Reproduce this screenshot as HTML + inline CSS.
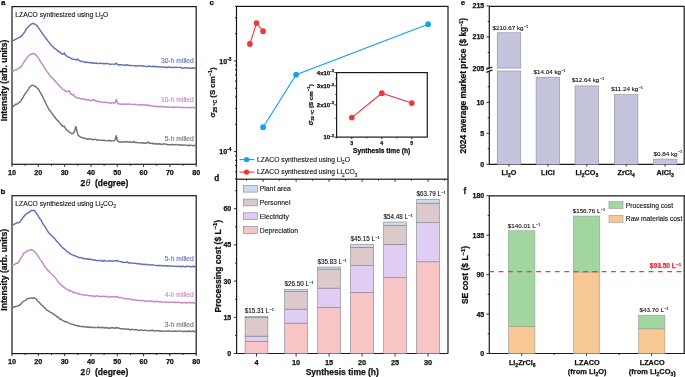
<!DOCTYPE html>
<html><head><meta charset="utf-8"><style>
html,body{margin:0;padding:0;background:#fff;}
svg{display:block;font-family:"Liberation Sans", sans-serif;}
text{-webkit-font-smoothing:antialiased;}
body{will-change:transform;}
</style></head><body>
<svg width="685" height="377" viewBox="0 0 685 377">
<rect width="685" height="377" fill="#fff"/>
<rect x="12" y="6.6" width="184.2" height="157.7" fill="none" stroke="#1a1a1a" stroke-width="1.2"/>
<line x1="12" y1="164.3" x2="12" y2="166.9" stroke="#1a1a1a" stroke-width="0.9" />
<text x="12" y="174.7" font-size="7.2" font-weight="bold" text-anchor="middle" fill="#111" stroke="#111" stroke-width="0.25" >10</text>
<line x1="25.16" y1="164.3" x2="25.16" y2="165.8" stroke="#1a1a1a" stroke-width="0.9" />
<line x1="38.31" y1="164.3" x2="38.31" y2="166.9" stroke="#1a1a1a" stroke-width="0.9" />
<text x="38.31" y="174.7" font-size="7.2" font-weight="bold" text-anchor="middle" fill="#111" stroke="#111" stroke-width="0.25" >20</text>
<line x1="51.47" y1="164.3" x2="51.47" y2="165.8" stroke="#1a1a1a" stroke-width="0.9" />
<line x1="64.63" y1="164.3" x2="64.63" y2="166.9" stroke="#1a1a1a" stroke-width="0.9" />
<text x="64.63" y="174.7" font-size="7.2" font-weight="bold" text-anchor="middle" fill="#111" stroke="#111" stroke-width="0.25" >30</text>
<line x1="77.79" y1="164.3" x2="77.79" y2="165.8" stroke="#1a1a1a" stroke-width="0.9" />
<line x1="90.94" y1="164.3" x2="90.94" y2="166.9" stroke="#1a1a1a" stroke-width="0.9" />
<text x="90.94" y="174.7" font-size="7.2" font-weight="bold" text-anchor="middle" fill="#111" stroke="#111" stroke-width="0.25" >40</text>
<line x1="104.1" y1="164.3" x2="104.1" y2="165.8" stroke="#1a1a1a" stroke-width="0.9" />
<line x1="117.26" y1="164.3" x2="117.26" y2="166.9" stroke="#1a1a1a" stroke-width="0.9" />
<text x="117.26" y="174.7" font-size="7.2" font-weight="bold" text-anchor="middle" fill="#111" stroke="#111" stroke-width="0.25" >50</text>
<line x1="130.41" y1="164.3" x2="130.41" y2="165.8" stroke="#1a1a1a" stroke-width="0.9" />
<line x1="143.57" y1="164.3" x2="143.57" y2="166.9" stroke="#1a1a1a" stroke-width="0.9" />
<text x="143.57" y="174.7" font-size="7.2" font-weight="bold" text-anchor="middle" fill="#111" stroke="#111" stroke-width="0.25" >60</text>
<line x1="156.73" y1="164.3" x2="156.73" y2="165.8" stroke="#1a1a1a" stroke-width="0.9" />
<line x1="169.89" y1="164.3" x2="169.89" y2="166.9" stroke="#1a1a1a" stroke-width="0.9" />
<text x="169.89" y="174.7" font-size="7.2" font-weight="bold" text-anchor="middle" fill="#111" stroke="#111" stroke-width="0.25" >70</text>
<line x1="183.04" y1="164.3" x2="183.04" y2="165.8" stroke="#1a1a1a" stroke-width="0.9" />
<line x1="196.2" y1="164.3" x2="196.2" y2="166.9" stroke="#1a1a1a" stroke-width="0.9" />
<text x="196.2" y="174.7" font-size="7.2" font-weight="bold" text-anchor="middle" fill="#111" stroke="#111" stroke-width="0.25" >80</text>
<text x="80.5" y="185.6" font-size="8.5" font-weight="bold" text-anchor="start" fill="#111" stroke="#111" stroke-width="0.25" >2</text>
<text x="85.7" y="185.6" font-size="8.3" font-weight="normal" text-anchor="start" fill="#111" stroke="#111" stroke-width="0.12" font-style="italic">θ</text>
<text x="94.9" y="185.6" font-size="8.5" font-weight="bold" text-anchor="start" fill="#111" stroke="#111" stroke-width="0.25" >(degree)</text>
<text x="15.3" y="16.5" font-size="6.75" font-weight="normal" text-anchor="start" fill="#111" stroke="#111" stroke-width="0.12" >LZACO synthesized using <tspan>Li</tspan><tspan font-size="4.72" dy="2.23">2</tspan><tspan dy="-2.23">O</tspan></text>
<text x="193.8" y="62.5" font-size="6.7" font-weight="normal" text-anchor="end" fill="#6072b6" stroke="#6072b6" stroke-width="0.12" >30-h milled</text>
<text x="193.8" y="102.3" font-size="6.7" font-weight="normal" text-anchor="end" fill="#c588c8" stroke="#c588c8" stroke-width="0.12" >10-h milled</text>
<text x="193.8" y="140.8" font-size="6.7" font-weight="normal" text-anchor="end" fill="#727272" stroke="#727272" stroke-width="0.12" >5-h milled</text>
<text x="7.4" y="80.4" font-size="8.55" font-weight="bold" text-anchor="middle" fill="#111" stroke="#111" stroke-width="0.25" transform="rotate(-90 7.4 80.4)" >Intensity (arb. units)</text>
<text x="1.1" y="4.6" font-size="8.0" font-weight="bold" text-anchor="start" fill="#111" stroke="#111" stroke-width="0.25" >a</text>
<path d="M12.1,41.1 L12.93,40.63 L14.11,40.21 L15.3,39.45 L16.33,38.96 L17.36,38.35 L18.5,37.85 L19.27,37.66 L20.1,36.98 L20.96,36.51 L21.84,35.62 L22.7,34.79 L23.23,34.09 L23.77,32.93 L24.31,32.66 L24.85,31.73 L25.39,30.86 L25.93,29.53 L26.47,28.73 L27,28.2 L27.73,27.42 L28.48,26.75 L29.23,25.88 L29.95,25.3 L30.62,24.44 L31.2,24.17 L32.37,23.51 L33.4,23.35 L34.29,24.06 L35.27,24.25 L36.5,25.46 L36.94,25.57 L37.42,26.15 L37.93,26.93 L38.46,27.73 L39.01,28.68 L39.57,29.42 L40.13,30.1 L40.7,30.82 L41.26,31.72 L41.8,32.87 L42.34,33.17 L42.88,34.15 L43.42,34.95 L43.96,35.28 L44.5,36.37 L45.04,37.4 L45.58,37.41 L46.12,38.51 L46.66,39.28 L47.2,39.82 L47.79,40.87 L48.37,41.5 L48.94,41.93 L49.51,43.16 L50.08,43.83 L50.66,44.59 L51.26,45.39 L51.87,45.82 L52.5,46.43 L53.17,46.77 L53.87,47.84 L54.59,48.21 L55.33,48.88 L56.07,49.31 L56.8,49.96 L57.5,50.61 L58.17,51.52 L58.8,51.25 L59.87,52.13 L60.9,53.16 L61.84,53.97 L62.65,54.19 L63.3,53.88 L64.3,52.65 L64.58,54 L65.5,55.04 L66.12,55.37 L66.92,56.32 L67.83,56.87 L68.81,57.19 L69.8,57.72 L70.75,58.22 L71.6,58.85 L72.72,59.06 L73.82,59.39 L74.86,59.66 L75.78,59.37 L76.5,60.08 L77.7,59.01 L78.21,59.79 L79.2,60.37 L79.9,60.94 L80.72,61.49 L81.69,61.1 L82.87,61.65 L84.3,62.12 L85.06,61.72 L85.9,62.48 L86.81,62.36 L87.77,62.33 L88.77,62.55 L89.81,62.74 L90.85,62.74 L91.9,63.07 L92.93,62.78 L93.93,62.93 L94.9,63.33 L95.84,63.18 L96.77,63.04 L97.7,63.5 L98.62,63.66 L99.54,63.28 L100.45,63.11 L101.36,63.42 L102.27,63.45 L103.18,63.45 L104.09,63.87 L105,63.37 L105.94,63.93 L106.93,63.44 L107.94,63.61 L108.97,64 L109.99,64.18 L110.98,64.18 L111.93,64.13 L112.81,64.12 L113.61,64.15 L114.32,64.25 L114.9,64.06 L116.17,63.44 L116.4,62.93 L115.93,63.48 L118,64.67 L118.52,64.69 L119.09,65.07 L119.73,64.76 L120.41,64.66 L121.14,64.73 L121.92,64.87 L122.74,65.14 L123.6,64.92 L124.49,65.14 L125.41,65.52 L126.37,64.61 L127.34,64.98 L128.34,65.34 L129.36,65.43 L130.39,65.46 L131.44,65.36 L132.49,65.66 L133.55,65.63 L134.6,65.51 L135.66,66.22 L136.71,65.81 L137.75,65.67 L138.78,65.82 L139.8,65.85 L140.64,65.93 L141.48,65.39 L142.33,65.93 L143.19,66.3 L144.06,65.86 L144.93,66.15 L145.81,66.42 L146.7,66.44 L147.59,66.62 L148.48,65.96 L149.39,66.3 L150.3,66.34 L151.21,66.59 L152.13,66.74 L153.05,65.95 L153.98,66.82 L154.91,66.3 L155.84,66.81 L156.78,66.37 L157.72,66.78 L158.66,67.04 L159.61,66.79 L160.56,66.9 L161.51,67.08 L162.47,66.97 L163.42,66.96 L164.38,67.36 L165.34,67.29 L166.3,67.04 L167.19,67.74 L168.1,66.92 L169.05,67.41 L170.02,67.19 L171.01,67.32 L172.02,67.48 L173.05,67.42 L174.09,67.55 L175.15,67.11 L176.21,67.16 L177.27,67.66 L178.34,67.36 L179.4,67.38 L180.46,67.32 L181.51,67.97 L182.56,67.89 L183.59,68.09 L184.6,67.59 L185.6,67.84 L186.57,67.62 L187.52,68.08 L188.44,68.29 L189.33,67.78 L190.19,68.35 L191.01,68.25 L191.79,68.02 L192.53,67.66 L193.23,68.43 L193.88,68.12 L194.47,68.03 L195.01,68.27 L195.5,68.2" fill="none" stroke="#6072b6" stroke-width="1.45" stroke-linejoin="round" stroke-linecap="round"/>
<path d="M12.3,71.5 L12.85,71.24 L13.64,70.99 L14.56,69.88 L15.5,69.85 L16.49,69.52 L17.58,69.13 L18.65,68.36 L19.6,67.74 L20.35,67.55 L20.98,66.73 L21.59,65.98 L22.3,65.31 L22.77,64.26 L23.28,63.02 L23.81,62.58 L24.34,61.36 L24.88,61.07 L25.4,60.12 L25.9,59.17 L26.55,58.35 L27.17,57.65 L27.77,56.67 L28.38,56.22 L29,55.29 L29.84,54.89 L30.72,54.5 L31.56,54.18 L32.3,53.45 L33.33,53.74 L34.3,53.59 L34.9,54.09 L35.53,54.3 L36.25,55.58 L37.1,56.03 L37.55,56.89 L38.05,57.55 L38.58,58.38 L39.14,59.11 L39.71,60.17 L40.27,61.4 L40.82,61.87 L41.33,62.79 L41.8,63.62 L42.4,64.3 L42.91,64.89 L43.38,65.82 L43.86,66.95 L44.38,67.18 L45,68.37 L45.48,69.45 L46,70.2 L46.55,70.86 L47.12,71.91 L47.71,72.64 L48.3,73.21 L48.88,73.96 L49.45,74.95 L50,76 L50.67,76.48 L51.33,77.13 L51.98,77.82 L52.62,78.27 L53.27,79.21 L53.93,79.63 L54.6,80.68 L55.21,80.76 L55.83,82.08 L56.47,82.62 L57.11,83.1 L57.74,84.44 L58.38,84.94 L59,85.19 L59.6,86.11 L60.39,87.1 L61.18,87.61 L61.95,88.5 L62.7,89.06 L63.42,89.56 L64.1,89.97 L65.07,90.89 L65.98,91.36 L66.8,91.78 L67.5,91.44 L68.42,91.27 L69.1,90.69 L69.6,91.13 L70.08,92.4 L70.6,94.03 L71.53,94.07 L72.4,94.9 L73.4,94.43 L73.81,94.72 L74.6,96.45 L75.2,97.14 L75.93,97.1 L76.76,97.64 L77.69,98.07 L78.7,98 L79.47,98.39 L80.3,98.67 L81.18,98.96 L82.1,98.94 L83.05,99.06 L84.02,99.03 L85,99.32 L85.92,99.73 L86.93,99.71 L87.98,99.65 L89.04,99.79 L90.06,100.69 L91,100.45 L91.83,100.41 L92.5,99.73 L93.72,100.01 L94.2,99.61 L94.59,100.43 L95.8,100.99 L96.42,101.05 L97.18,101.34 L98.05,100.97 L99,101.79 L100.01,101.8 L101.04,101.74 L102.06,102.33 L103.06,102.58 L104,101.99 L105.04,102.27 L106.13,102.59 L107.24,102.66 L108.33,102.62 L109.38,102.56 L110.36,103.3 L111.25,103.1 L112,102.64 L113.4,102.67 L114.23,103.3 L114.9,102.82 L115.5,101.97 L115.94,100.44 L116.4,99.51 L116.67,100.33 L116.86,100.96 L117.22,102.54 L118,103.59 L118.71,103.97 L119.57,103.84 L120.56,104.04 L121.63,104.18 L122.76,104.15 L123.89,104.21 L125,104.15 L125.84,104.07 L126.67,104.34 L127.51,104.21 L128.36,104.04 L129.24,104.11 L130.16,104.27 L131.11,104.28 L132.12,104.38 L133.2,104.4 L133.98,104.48 L134.78,104.46 L135.59,104.26 L136.43,104.69 L137.29,104.88 L138.16,104.8 L139.07,104.73 L139.99,104.93 L140.94,104.69 L141.92,104.55 L142.92,105.06 L143.94,104.92 L145,105.36 L145.8,105.02 L146.58,104.75 L147.33,105.17 L148.08,105.82 L148.83,105.46 L149.59,105.32 L150.37,105.53 L151.17,105.89 L152,105.97 L152.88,105.98 L153.82,106.35 L154.81,106.26 L155.87,106.18 L157.02,106.4 L158.24,106.71 L159.57,106.64 L161,106.73 L161.69,106.3 L162.42,106.54 L163.2,106.77 L164.02,106.58 L164.88,106.92 L165.77,106.85 L166.7,106.96 L167.65,106.75 L168.63,107.4 L169.64,107.15 L170.66,106.87 L171.7,106.97 L172.76,107.57 L173.83,106.96 L174.91,107.27 L175.99,107.33 L177.08,107.15 L178.17,106.94 L179.25,107.27 L180.33,107.35 L181.4,107.56 L182.46,107.52 L183.5,107.39 L184.53,107.6 L185.54,107.57 L186.52,107.53 L187.48,107.53 L188.41,107.5 L189.31,107.73 L190.18,107.38 L191,107.5 L191.79,107.67 L192.53,107.37 L193.23,107.62 L193.88,107.3 L194.47,107.61 L195.02,107.91 L195.5,107.8" fill="none" stroke="#c588c8" stroke-width="1.45" stroke-linejoin="round" stroke-linecap="round"/>
<path d="M12.3,107 L12.85,106.69 L13.64,105.93 L14.56,105.2 L15.5,104.29 L16.28,104.56 L17.13,103.87 L18,103.58 L18.84,102.67 L19.6,102.26 L20.25,101.23 L20.82,101.07 L21.36,100.3 L21.91,98.81 L22.5,98.29 L22.96,97.73 L23.43,96.44 L23.91,95.64 L24.4,94.99 L24.9,94.26 L25.4,93.28 L25.9,92.81 L26.41,92.06 L26.94,91.32 L27.47,90.5 L28,89.87 L28.52,89.03 L29.03,87.8 L29.5,87.39 L30.51,86.23 L31.44,85.54 L32.3,85.38 L33.31,85.39 L34.5,86.21 L35.08,86.15 L35.75,86.69 L36.47,87.5 L37.22,88.11 L37.97,88.84 L38.7,89.79 L39.17,90.31 L39.63,91.36 L40.09,92.08 L40.55,92.82 L41.02,93.58 L41.5,94.62 L41.98,95.01 L42.48,96.38 L43,97.61 L43.41,98.06 L43.83,99.28 L44.27,100.16 L44.72,100.75 L45.17,101.94 L45.63,102.87 L46.09,103.98 L46.54,104.93 L46.98,105.67 L47.4,106.33 L47.81,107.26 L48.2,107.99 L48.8,109.21 L49.35,109.99 L49.85,110.53 L50.35,111.1 L50.85,112 L51.4,112.64 L52,113.36 L52.52,114.26 L53.08,114.89 L53.66,115.76 L54.26,116.59 L54.87,117.13 L55.48,118.47 L56.08,118.6 L56.65,119.6 L57.2,120.03 L57.88,121.04 L58.57,121.06 L59.24,122.17 L59.88,123.11 L60.48,123.84 L61.02,124.81 L61.5,124.87 L62.61,126.2 L63.3,126.57 L64.3,126.31 L64.64,126.79 L65.02,127.5 L65.46,128.59 L66,129.06 L66.67,130.2 L67.44,130.29 L68.27,131.11 L69.1,132.07 L69.96,132.19 L70.88,132.94 L71.75,133.74 L72.5,133.71 L73.26,133.21 L73.85,132.65 L74.4,131.63 L74.73,130.67 L75.03,129.03 L75.33,128.28 L75.61,127.28 L75.9,126.6 L76.1,126.99 L76.3,127.56 L76.5,128.95 L76.69,129.62 L76.89,131.07 L77.09,131.87 L77.3,132.65 L77.73,134.3 L78.17,135.44 L78.9,136 L79.72,136.42 L80.73,137.22 L81.84,137.43 L83,137.87 L83.86,138.38 L84.68,138.49 L85.59,138.3 L86.72,139.09 L88.2,138.8 L88.89,139.07 L89.65,138.86 L90.47,139.1 L91.34,138.85 L92.25,139.74 L93.19,139.77 L94.16,139.32 L95.15,139.38 L96.14,139.47 L97.13,140.19 L98.11,139.93 L99.07,140.11 L100,140.13 L100.94,140.24 L101.93,140.1 L102.94,140.4 L103.98,140.14 L105.02,140.49 L106.05,140.62 L107.06,140.7 L108.04,140.58 L108.97,140.46 L109.85,140.71 L110.65,140.59 L111.37,141.04 L112,140.87 L113.69,140.7 L114.37,140.53 L114.9,139.95 L115.29,139.08 L115.6,138.01 L115.86,136.91 L116.12,136.02 L116.4,135.73 L116.6,136.49 L116.73,136.81 L116.86,138.19 L117.06,140.09 L117.42,140.21 L118,141.29 L118.71,141.79 L119.58,141.97 L120.57,142.09 L121.65,141.93 L122.77,142.01 L123.9,141.9 L125,142.07 L126,141.54 L127.09,141.82 L128.23,142.08 L129.37,141.92 L130.46,141.96 L131.46,142.36 L132.32,142.08 L133,142.34 L134.1,141.36 L134.07,141.83 L135.4,142.61 L136,142.54 L136.77,142.32 L137.66,142.68 L138.66,142.85 L139.73,142.68 L140.85,142.82 L141.98,143.05 L143.09,142.72 L144.16,143.07 L145.16,143.35 L146.05,142.82 L146.8,142.96 L147.4,142.87 L148.5,141.94 L148.19,142.31 L149.8,143.4 L150.32,143.12 L150.9,143.35 L151.52,143.42 L152.2,143.1 L152.93,143.88 L153.7,143.83 L154.53,143.32 L155.39,143.93 L156.31,143.8 L157.26,143.99 L158.26,144.04 L159.3,143.69 L160.37,144.04 L161.49,144.48 L162.64,144.08 L163.83,144.05 L165.05,144.04 L166.3,144.13 L167.04,144.51 L167.83,144.85 L168.66,144.61 L169.54,144.6 L170.46,145.08 L171.41,144.51 L172.39,144.52 L173.39,144.82 L174.42,144.87 L175.47,144.56 L176.53,144.57 L177.6,144.93 L178.68,144.96 L179.77,144.66 L180.85,144.94 L181.93,144.91 L183,145.16 L184.06,145.07 L185.11,145.12 L186.13,145.09 L187.13,145.44 L188.11,145.55 L189.05,145.19 L189.96,145.49 L190.82,145.17 L191.65,145.38 L192.43,145.56 L193.16,145.75 L193.84,145.36 L194.45,145.45 L195.01,145.53 L195.5,145.5" fill="none" stroke="#727272" stroke-width="1.45" stroke-linejoin="round" stroke-linecap="round"/>
<rect x="12" y="195.7" width="184.2" height="157.9" fill="none" stroke="#1a1a1a" stroke-width="1.2"/>
<line x1="12" y1="353.6" x2="12" y2="356.2" stroke="#1a1a1a" stroke-width="0.9" />
<text x="12" y="364" font-size="7.2" font-weight="bold" text-anchor="middle" fill="#111" stroke="#111" stroke-width="0.25" >10</text>
<line x1="25.16" y1="353.6" x2="25.16" y2="355.1" stroke="#1a1a1a" stroke-width="0.9" />
<line x1="38.31" y1="353.6" x2="38.31" y2="356.2" stroke="#1a1a1a" stroke-width="0.9" />
<text x="38.31" y="364" font-size="7.2" font-weight="bold" text-anchor="middle" fill="#111" stroke="#111" stroke-width="0.25" >20</text>
<line x1="51.47" y1="353.6" x2="51.47" y2="355.1" stroke="#1a1a1a" stroke-width="0.9" />
<line x1="64.63" y1="353.6" x2="64.63" y2="356.2" stroke="#1a1a1a" stroke-width="0.9" />
<text x="64.63" y="364" font-size="7.2" font-weight="bold" text-anchor="middle" fill="#111" stroke="#111" stroke-width="0.25" >30</text>
<line x1="77.79" y1="353.6" x2="77.79" y2="355.1" stroke="#1a1a1a" stroke-width="0.9" />
<line x1="90.94" y1="353.6" x2="90.94" y2="356.2" stroke="#1a1a1a" stroke-width="0.9" />
<text x="90.94" y="364" font-size="7.2" font-weight="bold" text-anchor="middle" fill="#111" stroke="#111" stroke-width="0.25" >40</text>
<line x1="104.1" y1="353.6" x2="104.1" y2="355.1" stroke="#1a1a1a" stroke-width="0.9" />
<line x1="117.26" y1="353.6" x2="117.26" y2="356.2" stroke="#1a1a1a" stroke-width="0.9" />
<text x="117.26" y="364" font-size="7.2" font-weight="bold" text-anchor="middle" fill="#111" stroke="#111" stroke-width="0.25" >50</text>
<line x1="130.41" y1="353.6" x2="130.41" y2="355.1" stroke="#1a1a1a" stroke-width="0.9" />
<line x1="143.57" y1="353.6" x2="143.57" y2="356.2" stroke="#1a1a1a" stroke-width="0.9" />
<text x="143.57" y="364" font-size="7.2" font-weight="bold" text-anchor="middle" fill="#111" stroke="#111" stroke-width="0.25" >60</text>
<line x1="156.73" y1="353.6" x2="156.73" y2="355.1" stroke="#1a1a1a" stroke-width="0.9" />
<line x1="169.89" y1="353.6" x2="169.89" y2="356.2" stroke="#1a1a1a" stroke-width="0.9" />
<text x="169.89" y="364" font-size="7.2" font-weight="bold" text-anchor="middle" fill="#111" stroke="#111" stroke-width="0.25" >70</text>
<line x1="183.04" y1="353.6" x2="183.04" y2="355.1" stroke="#1a1a1a" stroke-width="0.9" />
<line x1="196.2" y1="353.6" x2="196.2" y2="356.2" stroke="#1a1a1a" stroke-width="0.9" />
<text x="196.2" y="364" font-size="7.2" font-weight="bold" text-anchor="middle" fill="#111" stroke="#111" stroke-width="0.25" >80</text>
<text x="80.5" y="374.9" font-size="8.5" font-weight="bold" text-anchor="start" fill="#111" stroke="#111" stroke-width="0.25" >2</text>
<text x="85.7" y="374.9" font-size="8.3" font-weight="normal" text-anchor="start" fill="#111" stroke="#111" stroke-width="0.12" font-style="italic">θ</text>
<text x="94.9" y="374.9" font-size="8.5" font-weight="bold" text-anchor="start" fill="#111" stroke="#111" stroke-width="0.25" >(degree)</text>
<text x="15.3" y="205.6" font-size="6.75" font-weight="normal" text-anchor="start" fill="#111" stroke="#111" stroke-width="0.12" >LZACO synthesized using <tspan>Li</tspan><tspan font-size="4.72" dy="2.23">2</tspan><tspan dy="-2.23">CO</tspan><tspan font-size="4.72" dy="2.23">3</tspan></text>
<text x="193.8" y="261.2" font-size="6.7" font-weight="normal" text-anchor="end" fill="#6072b6" stroke="#6072b6" stroke-width="0.12" >5-h milled</text>
<text x="193.8" y="297" font-size="6.7" font-weight="normal" text-anchor="end" fill="#c588c8" stroke="#c588c8" stroke-width="0.12" >4-h milled</text>
<text x="193.8" y="326.8" font-size="6.7" font-weight="normal" text-anchor="end" fill="#727272" stroke="#727272" stroke-width="0.12" >3-h milled</text>
<text x="7.4" y="269.8" font-size="8.55" font-weight="bold" text-anchor="middle" fill="#111" stroke="#111" stroke-width="0.25" transform="rotate(-90 7.4 269.8)" >Intensity (arb. units)</text>
<text x="0.6" y="193.8" font-size="8.0" font-weight="bold" text-anchor="start" fill="#111" stroke="#111" stroke-width="0.25" >b</text>
<path d="M12.1,225.8 L12.65,225.08 L13.43,224.85 L14.35,224.08 L15.3,223.78 L16.12,223.14 L17.03,222.7 L17.96,222.9 L18.84,222.66 L19.6,222.08 L20.32,221.73 L20.89,220.68 L21.41,219.75 L22,219.11 L22.53,217.92 L23.06,217.35 L23.62,216.7 L24.23,216.12 L24.9,215.16 L25.67,214.57 L26.53,213.66 L27.43,213.21 L28.3,212.9 L29.1,211.85 L29.97,211.91 L30.76,210.7 L31.52,210.45 L32.3,210.34 L33.08,210.6 L33.84,210.37 L34.63,210.7 L35.5,212.13 L35.97,212.74 L36.45,213.36 L36.95,214.55 L37.47,214.83 L38,215.7 L38.55,216.75 L39.12,217.55 L39.7,218.77 L40.14,218.82 L40.61,219.75 L41.09,219.84 L41.59,221.57 L42.09,222.11 L42.6,223.21 L43.1,224.28 L43.6,224.6 L44.08,225.31 L44.55,225.99 L45,226.62 L45.58,227.56 L46.12,228.71 L46.64,229.4 L47.15,230.21 L47.66,230.93 L48.18,231.93 L48.72,232.57 L49.3,233.17 L49.91,234.05 L50.53,234.52 L51.17,234.92 L51.82,236.1 L52.49,236.5 L53.17,236.84 L53.88,237.98 L54.6,238.58 L55.2,238.83 L55.81,240.24 L56.44,240.72 L57.09,241.63 L57.74,242.27 L58.39,243 L59.05,243.48 L59.71,244.8 L60.36,245.32 L61,245.94 L61.7,246.79 L62.4,247.43 L63.1,248.23 L63.8,248.64 L64.5,249.34 L65.2,249.47 L65.9,250.43 L66.6,251.22 L67.3,251.89 L68.08,252.08 L68.84,252.65 L69.6,253.51 L70.36,253.55 L71.14,254.22 L71.95,254.85 L72.8,254.9 L73.7,255.57 L74.53,255.5 L75.37,256.04 L76.22,256.31 L77.1,256.68 L78.02,257.21 L78.98,257.79 L79.99,257.4 L81.06,257.7 L82.2,258.21 L82.98,258.04 L83.82,258.55 L84.69,258.73 L85.6,258.71 L86.53,259.04 L87.49,258.74 L88.45,259.4 L89.42,259.04 L90.38,259.36 L91.34,259.52 L92.27,259.68 L93.19,260.08 L94.06,260.02 L94.9,260.01 L95.91,260.33 L96.89,260.66 L97.83,260.4 L98.75,260.55 L99.64,260.8 L100.53,260.64 L101.41,260.35 L102.29,261.22 L103.17,261.2 L104.08,260.32 L105,260.79 L105.97,260.94 L107,261.11 L108.07,261.09 L109.16,260.92 L110.24,260.79 L111.3,261.08 L112.31,261.32 L113.26,260.87 L114.12,260.89 L114.87,261.11 L115.5,260.67 L116.89,260.59 L117.2,260.2 L116.91,260.8 L119,261.35 L119.52,261.39 L120.1,261.58 L120.73,261.75 L121.42,261.7 L122.15,261.95 L122.93,262.22 L123.75,262.42 L124.6,262.64 L125.5,262.2 L126.42,262.39 L127.37,262.05 L128.35,263.12 L129.35,262.66 L130.36,262.93 L131.39,263.16 L132.44,262.86 L133.49,263.37 L134.55,263.38 L135.61,263.09 L136.67,263.66 L137.72,263.96 L138.77,263.39 L139.8,264.08 L140.62,264.02 L141.45,264.16 L142.29,264.23 L143.14,264.49 L144,264.24 L144.87,264.55 L145.74,264.35 L146.62,264.68 L147.51,264.41 L148.41,264.65 L149.31,265.13 L150.22,264.92 L151.14,264.86 L152.06,264.72 L152.99,264.87 L153.92,265.16 L154.86,265.39 L155.8,265.35 L156.74,265.44 L157.69,265.38 L158.64,265.75 L159.59,265.43 L160.54,265.46 L161.5,265.83 L162.46,265.71 L163.42,265.69 L164.38,265.68 L165.34,265.8 L166.3,266.04 L167.19,266.02 L168.1,265.71 L169.05,266.11 L170.02,266.09 L171.01,265.87 L172.02,266.29 L173.05,266.09 L174.09,266.11 L175.15,266.39 L176.21,266.53 L177.27,266.11 L178.34,266.38 L179.4,266.12 L180.46,266.84 L181.51,266.25 L182.56,266.64 L183.59,266.25 L184.6,266.59 L185.6,266.92 L186.57,265.89 L187.52,266.37 L188.44,266.59 L189.33,266.47 L190.19,266.36 L191.01,266.99 L191.79,266.55 L192.53,266.18 L193.23,266.74 L193.88,266.19 L194.47,266.83 L195.01,266.46 L195.5,266.6" fill="none" stroke="#6072b6" stroke-width="1.45" stroke-linejoin="round" stroke-linecap="round"/>
<path d="M12.3,265.5 L12.9,265.26 L13.76,265.15 L14.77,264.47 L15.81,263.65 L16.79,263.07 L17.6,263.16 L18.33,262.39 L18.92,261.32 L19.43,260.91 L19.94,260 L20.5,259.14 L21.01,257.67 L21.52,257.17 L22.04,256.47 L22.58,255.49 L23.13,254.64 L23.7,253.16 L24.42,253.01 L25.18,252.47 L25.95,252.41 L26.73,251.19 L27.5,250.93 L28.48,250.55 L29.47,250.35 L30.43,249.8 L31.3,250.05 L32.26,249.74 L33.09,250.35 L34,250.88 L34.51,251.53 L35.04,251.93 L35.58,252.4 L36.15,253.74 L36.76,254.38 L37.4,255.08 L37.86,255.88 L38.34,256.75 L38.84,257.05 L39.36,258.01 L39.89,258.94 L40.42,259.74 L40.95,260.35 L41.48,260.76 L42,262.27 L42.49,262.84 L42.96,263.53 L43.42,264.24 L43.88,265.12 L44.35,265.74 L44.84,266.39 L45.38,267.24 L45.96,268.06 L46.6,268.87 L47.18,269.41 L47.8,270.47 L48.46,270.7 L49.14,271.8 L49.85,272.11 L50.58,273.09 L51.31,274 L52.05,274.45 L52.78,274.96 L53.5,275.86 L54.2,276.63 L54.78,276.88 L55.35,277.82 L55.92,278.71 L56.49,279.3 L57.05,280.17 L57.62,281.07 L58.19,281.82 L58.76,282.59 L59.34,283.25 L59.94,283.75 L60.54,284.48 L61.16,285.05 L61.8,285.63 L62.56,286.3 L63.33,286.56 L64.11,287.44 L64.9,288.04 L65.7,288.33 L66.53,289.02 L67.37,289.6 L68.23,289.89 L69.12,290.82 L70.04,290.21 L71,291.15 L71.77,291.12 L72.55,292.06 L73.33,292.74 L74.13,291.9 L74.95,292.78 L75.78,293.15 L76.62,293.24 L77.49,293.69 L78.38,293.33 L79.29,294.25 L80.23,294.37 L81.19,294.51 L82.18,294.58 L83.2,295.04 L84.02,294.93 L84.87,295.21 L85.75,295.16 L86.65,294.89 L87.57,295.47 L88.51,295.61 L89.46,295.81 L90.42,295.53 L91.39,295.79 L92.37,295.99 L93.35,295.95 L94.33,296.25 L95.3,296.47 L96.27,295.89 L97.22,295.72 L98.17,296.38 L99.09,296.58 L100,296.5 L100.97,296.54 L101.97,296.28 L102.99,296.31 L104.03,296.72 L105.08,296.37 L106.12,296.22 L107.16,296.45 L108.19,297.26 L109.19,297.17 L110.17,296.63 L111.1,296.66 L111.99,296.89 L112.83,296.7 L113.61,297.17 L114.32,296.88 L114.95,296.66 L115.5,297.19 L117.21,296.37 L117.2,296.25 L116.91,296.68 L119,297.53 L119.52,297.77 L120.1,297.64 L120.73,297.5 L121.42,297.53 L122.15,297.86 L122.93,298.09 L123.75,298.38 L124.6,298.53 L125.5,298.77 L126.42,298.81 L127.37,298.75 L128.35,298.9 L129.35,298.73 L130.36,299.29 L131.39,299.57 L132.44,299.71 L133.49,299.69 L134.55,299.81 L135.61,300.17 L136.67,300.09 L137.72,300.36 L138.77,300.43 L139.8,300.45 L140.62,300.76 L141.45,300.42 L142.29,300.54 L143.14,300.51 L144,300.58 L144.87,301.16 L145.74,301.27 L146.62,300.95 L147.51,301.13 L148.41,301.33 L149.31,301.3 L150.22,301.45 L151.14,300.96 L152.06,301.15 L152.99,301.44 L153.92,301.71 L154.86,301.47 L155.8,301.31 L156.74,301.47 L157.69,301.45 L158.64,301.45 L159.59,302.02 L160.54,301.6 L161.5,301.78 L162.46,302.3 L163.42,302.13 L164.38,301.99 L165.34,301.82 L166.3,302.09 L167.19,302.4 L168.1,302.21 L169.05,302.39 L170.02,302.17 L171.01,302.3 L172.02,302.18 L173.05,302.35 L174.09,302.58 L175.15,302.01 L176.21,302.35 L177.27,302.45 L178.34,302.3 L179.4,302.39 L180.46,302.66 L181.51,302.96 L182.56,302.69 L183.59,302.65 L184.6,302.26 L185.6,303.06 L186.57,302.68 L187.52,302.68 L188.44,302.46 L189.33,302.72 L190.19,302.51 L191.01,302.79 L191.79,302.9 L192.53,302.82 L193.23,302.9 L193.88,302.67 L194.47,303.18 L195.01,302.74 L195.5,302.9" fill="none" stroke="#c588c8" stroke-width="1.45" stroke-linejoin="round" stroke-linecap="round"/>
<path d="M12.3,307.7 L12.95,307.11 L13.86,307.21 L14.94,306.78 L16.1,306.39 L17.24,306.17 L18.27,305.93 L19.1,305.24 L20.09,304.78 L20.77,304.36 L21.35,303.44 L22,302.57 L22.76,302.02 L23.54,301.41 L24.35,300.9 L25.2,300.56 L26.11,299.85 L27.06,298.82 L28.03,298.87 L29,298.3 L30,298.36 L31.03,297.88 L32.01,297.93 L32.9,298.38 L33.83,297.82 L34.61,298.15 L35.5,298.69 L36.12,299 L36.76,299.77 L37.45,300.99 L38.19,301.56 L39,302.09 L39.64,302.77 L40.35,303.87 L41.09,304.23 L41.84,304.99 L42.59,305.82 L43.32,306.69 L44,307.43 L44.69,307.88 L45.3,308.28 L45.89,308.87 L46.51,309.8 L47.22,310.34 L48.1,310.63 L48.72,311.24 L49.39,311.66 L50.12,312.08 L50.88,312.45 L51.68,312.76 L52.48,313.44 L53.3,313.73 L54.12,314.85 L54.92,315.21 L55.7,315.33 L56.45,316.42 L57.19,316.84 L57.91,316.76 L58.63,318.12 L59.36,318.43 L60.11,319.25 L60.87,319.05 L61.67,319.95 L62.51,320.42 L63.4,320.84 L64.18,321.22 L64.98,321.79 L65.81,321.6 L66.66,322.02 L67.53,322.34 L68.42,322.86 L69.32,323.19 L70.24,323.73 L71.17,324.01 L72.11,324.26 L73.05,324.38 L74,324.7 L74.88,325.24 L75.77,325.42 L76.67,325.49 L77.58,325.59 L78.5,326.19 L79.43,325.9 L80.37,326.34 L81.32,326.61 L82.28,326.44 L83.24,326.82 L84.22,326.52 L85.2,327.11 L86.2,327.04 L87.07,326.74 L87.95,327.31 L88.84,327.03 L89.73,327.56 L90.64,327.18 L91.55,327.33 L92.46,327.47 L93.39,327.36 L94.32,327.52 L95.25,327.36 L96.19,327.65 L97.14,327.53 L98.09,327.59 L99.04,326.97 L100,327.86 L100.93,327.64 L101.91,327.27 L102.93,327.71 L103.98,327.82 L105.05,327.98 L106.13,327.54 L107.21,328.14 L108.27,327.79 L109.31,328.37 L110.31,327.83 L111.27,328.03 L112.17,327.81 L113.01,327.66 L113.76,328.15 L114.43,328.11 L115,328.24 L116.5,327.49 L115.98,327.52 L118,327.93 L118.52,328.22 L119.09,328.28 L119.72,328.31 L120.4,328.69 L121.14,328.71 L121.91,328.66 L122.73,328.83 L123.59,328.84 L124.48,329 L125.41,329.2 L126.36,329.33 L127.34,329.06 L128.34,328.96 L129.36,329.69 L130.39,329.48 L131.43,329.78 L132.49,329.26 L133.54,329.62 L134.6,329.78 L135.66,329.53 L136.71,329.8 L137.75,330.14 L138.78,330.28 L139.8,330.45 L140.64,329.96 L141.48,329.88 L142.33,330.35 L143.19,330.48 L144.06,330.36 L144.93,330.07 L145.81,330.56 L146.7,330.6 L147.59,330.58 L148.48,330.39 L149.39,330.59 L150.3,330.73 L151.21,330.46 L152.13,330.21 L153.05,330.72 L153.98,330.78 L154.91,330.7 L155.84,330.92 L156.78,330.63 L157.72,330.76 L158.66,330.74 L159.61,330.96 L160.56,331.21 L161.51,330.82 L162.47,331.36 L163.42,331.26 L164.38,331.13 L165.34,331.11 L166.3,331.39 L167.19,330.98 L168.1,331.02 L169.05,330.83 L170.02,331.19 L171.01,331.4 L172.02,331.24 L173.05,331.24 L174.09,331.12 L175.15,331.22 L176.21,330.89 L177.27,331.45 L178.34,331.15 L179.4,331.01 L180.46,331.11 L181.51,331.11 L182.56,331.49 L183.59,331.55 L184.6,331.04 L185.6,331.56 L186.57,331.56 L187.52,331.25 L188.44,331.07 L189.33,331.24 L190.19,331.28 L191.01,331.51 L191.79,331.36 L192.53,331.01 L193.23,331.52 L193.88,331.14 L194.47,331.68 L195.01,331.23 L195.5,331.5" fill="none" stroke="#727272" stroke-width="1.45" stroke-linejoin="round" stroke-linecap="round"/>
<rect x="236.5" y="6.4" width="211.5" height="172.8" fill="none" stroke="#1a1a1a" stroke-width="1.2"/>
<line x1="235" y1="178.87" x2="236.5" y2="178.87" stroke="#1a1a1a" stroke-width="0.9" />
<line x1="235" y1="171.7" x2="236.5" y2="171.7" stroke="#1a1a1a" stroke-width="0.9" />
<line x1="235" y1="165.63" x2="236.5" y2="165.63" stroke="#1a1a1a" stroke-width="0.9" />
<line x1="235" y1="160.38" x2="236.5" y2="160.38" stroke="#1a1a1a" stroke-width="0.9" />
<line x1="235" y1="155.75" x2="236.5" y2="155.75" stroke="#1a1a1a" stroke-width="0.9" />
<line x1="233.9" y1="151.6" x2="236.5" y2="151.6" stroke="#1a1a1a" stroke-width="0.9" />
<line x1="235" y1="124.33" x2="236.5" y2="124.33" stroke="#1a1a1a" stroke-width="0.9" />
<line x1="235" y1="108.37" x2="236.5" y2="108.37" stroke="#1a1a1a" stroke-width="0.9" />
<line x1="235" y1="97.05" x2="236.5" y2="97.05" stroke="#1a1a1a" stroke-width="0.9" />
<line x1="235" y1="88.27" x2="236.5" y2="88.27" stroke="#1a1a1a" stroke-width="0.9" />
<line x1="235" y1="81.1" x2="236.5" y2="81.1" stroke="#1a1a1a" stroke-width="0.9" />
<line x1="235" y1="75.03" x2="236.5" y2="75.03" stroke="#1a1a1a" stroke-width="0.9" />
<line x1="235" y1="69.78" x2="236.5" y2="69.78" stroke="#1a1a1a" stroke-width="0.9" />
<line x1="235" y1="65.15" x2="236.5" y2="65.15" stroke="#1a1a1a" stroke-width="0.9" />
<line x1="233.9" y1="61" x2="236.5" y2="61" stroke="#1a1a1a" stroke-width="0.9" />
<line x1="235" y1="33.73" x2="236.5" y2="33.73" stroke="#1a1a1a" stroke-width="0.9" />
<line x1="235" y1="17.77" x2="236.5" y2="17.77" stroke="#1a1a1a" stroke-width="0.9" />
<line x1="235" y1="6.45" x2="236.5" y2="6.45" stroke="#1a1a1a" stroke-width="0.9" />
<text x="231.4" y="63.6" font-size="7.1" font-weight="bold" text-anchor="end" fill="#111" stroke="#111" stroke-width="0.25" >10<tspan font-size="4.7" dy="-3.0">-3</tspan></text>
<text x="231.4" y="154.2" font-size="7.1" font-weight="bold" text-anchor="end" fill="#111" stroke="#111" stroke-width="0.25" >10<tspan font-size="4.7" dy="-3.0">-4</tspan></text>
<line x1="246.6" y1="179.2" x2="246.6" y2="180.7" stroke="#1a1a1a" stroke-width="0.9" />
<line x1="263.1" y1="179.2" x2="263.1" y2="181.8" stroke="#1a1a1a" stroke-width="0.9" />
<line x1="279.6" y1="179.2" x2="279.6" y2="180.7" stroke="#1a1a1a" stroke-width="0.9" />
<line x1="296.1" y1="179.2" x2="296.1" y2="181.8" stroke="#1a1a1a" stroke-width="0.9" />
<line x1="312.6" y1="179.2" x2="312.6" y2="180.7" stroke="#1a1a1a" stroke-width="0.9" />
<line x1="329.1" y1="179.2" x2="329.1" y2="181.8" stroke="#1a1a1a" stroke-width="0.9" />
<line x1="345.6" y1="179.2" x2="345.6" y2="180.7" stroke="#1a1a1a" stroke-width="0.9" />
<line x1="362.1" y1="179.2" x2="362.1" y2="181.8" stroke="#1a1a1a" stroke-width="0.9" />
<line x1="378.6" y1="179.2" x2="378.6" y2="180.7" stroke="#1a1a1a" stroke-width="0.9" />
<line x1="395.1" y1="179.2" x2="395.1" y2="181.8" stroke="#1a1a1a" stroke-width="0.9" />
<line x1="411.6" y1="179.2" x2="411.6" y2="180.7" stroke="#1a1a1a" stroke-width="0.9" />
<line x1="428.1" y1="179.2" x2="428.1" y2="181.8" stroke="#1a1a1a" stroke-width="0.9" />
<line x1="444.6" y1="179.2" x2="444.6" y2="180.7" stroke="#1a1a1a" stroke-width="0.9" />
<text x="215" y="92.4" font-size="7.9" font-weight="bold" text-anchor="middle" fill="#111" stroke="#111" stroke-width="0.25" transform="rotate(-90 215 92.4)" ><tspan font-style="italic" font-size="7.4">σ</tspan><tspan font-size="5.0" dy="2.0">25 °C</tspan><tspan dy="-2.0"> (S cm</tspan><tspan font-size="5.4" dy="-3.2">−1</tspan><tspan dy="3.2">)</tspan></text>
<text x="209.6" y="4.6" font-size="8.0" font-weight="bold" text-anchor="start" fill="#111" stroke="#111" stroke-width="0.25" >c</text>
<path d="M263.1,127.18 L296.1,74.7 L428.1,24.17" fill="none" stroke="#12a0f4" stroke-width="1.1"/>
<circle cx="263.1" cy="127.18" r="2.9" fill="#12a0f4"/>
<circle cx="296.1" cy="74.7" r="2.9" fill="#12a0f4"/>
<circle cx="428.1" cy="24.17" r="2.9" fill="#12a0f4"/>
<path d="M249.9,44.01 L256.5,23.1 L263.1,31.25" fill="none" stroke="#f0383c" stroke-width="1.1"/>
<circle cx="249.9" cy="44.01" r="2.9" fill="#f0383c"/>
<circle cx="256.5" cy="23.1" r="2.9" fill="#f0383c"/>
<circle cx="263.1" cy="31.25" r="2.9" fill="#f0383c"/>
<line x1="239.5" y1="159.6" x2="254.5" y2="159.6" stroke="#12a0f4" stroke-width="1.1" />
<circle cx="246.6" cy="159.6" r="2.7" fill="#12a0f4"/>
<line x1="239.5" y1="172.1" x2="254.5" y2="172.1" stroke="#f0383c" stroke-width="1.1" />
<circle cx="246.6" cy="172.1" r="2.7" fill="#f0383c"/>
<text x="256.9" y="162" font-size="6.75" font-weight="normal" text-anchor="start" fill="#111" stroke="#111" stroke-width="0.12" >LZACO synthesized using <tspan>Li</tspan><tspan font-size="4.72" dy="2.23">2</tspan><tspan dy="-2.23">O</tspan></text>
<text x="256.9" y="174.4" font-size="6.75" font-weight="normal" text-anchor="start" fill="#111" stroke="#111" stroke-width="0.12" >LZACO synthesized using <tspan>Li</tspan><tspan font-size="4.72" dy="2.23">2</tspan><tspan dy="-2.23">CO</tspan><tspan font-size="4.72" dy="2.23">3</tspan></text>
<rect x="336.6" y="72.6" width="90.7" height="64.5" fill="#fff" stroke="#1a1a1a" stroke-width="1.2"/>
<line x1="334.4" y1="137.1" x2="336.6" y2="137.1" stroke="#1a1a1a" stroke-width="0.9" />
<line x1="334.4" y1="104.86" x2="336.6" y2="104.86" stroke="#1a1a1a" stroke-width="0.9" />
<line x1="334.4" y1="86" x2="336.6" y2="86" stroke="#1a1a1a" stroke-width="0.9" />
<line x1="334.4" y1="72.62" x2="336.6" y2="72.62" stroke="#1a1a1a" stroke-width="0.9" />
<line x1="335.3" y1="118.24" x2="336.6" y2="118.24" stroke="#1a1a1a" stroke-width="0.9" />
<line x1="335.3" y1="94.48" x2="336.6" y2="94.48" stroke="#1a1a1a" stroke-width="0.9" />
<line x1="335.3" y1="78.83" x2="336.6" y2="78.83" stroke="#1a1a1a" stroke-width="0.9" />
<line x1="351.8" y1="137.1" x2="351.8" y2="139.3" stroke="#1a1a1a" stroke-width="0.9" />
<text x="351.8" y="144.6" font-size="5.2" font-weight="bold" text-anchor="middle" fill="#111" stroke="#111" stroke-width="0.25" >3</text>
<line x1="381.8" y1="137.1" x2="381.8" y2="139.3" stroke="#1a1a1a" stroke-width="0.9" />
<text x="381.8" y="144.6" font-size="5.2" font-weight="bold" text-anchor="middle" fill="#111" stroke="#111" stroke-width="0.25" >4</text>
<line x1="411.8" y1="137.1" x2="411.8" y2="139.3" stroke="#1a1a1a" stroke-width="0.9" />
<text x="411.8" y="144.6" font-size="5.2" font-weight="bold" text-anchor="middle" fill="#111" stroke="#111" stroke-width="0.25" >5</text>
<line x1="336.8" y1="137.1" x2="336.8" y2="138.4" stroke="#1a1a1a" stroke-width="0.9" />
<line x1="366.8" y1="137.1" x2="366.8" y2="138.4" stroke="#1a1a1a" stroke-width="0.9" />
<line x1="396.8" y1="137.1" x2="396.8" y2="138.4" stroke="#1a1a1a" stroke-width="0.9" />
<text x="316.8" y="74.72" font-size="6.0" font-weight="bold" text-anchor="start" fill="#111" stroke="#111" stroke-width="0.25" >4x10</text>
<text x="330.34" y="72.12" font-size="4.0" font-weight="bold" text-anchor="start" fill="#111" stroke="#111" stroke-width="0.25" >-3</text>
<text x="316.8" y="88.1" font-size="6.0" font-weight="bold" text-anchor="start" fill="#111" stroke="#111" stroke-width="0.25" >3x10</text>
<text x="330.34" y="85.5" font-size="4.0" font-weight="bold" text-anchor="start" fill="#111" stroke="#111" stroke-width="0.25" >-3</text>
<text x="316.8" y="106.96" font-size="6.0" font-weight="bold" text-anchor="start" fill="#111" stroke="#111" stroke-width="0.25" >2x10</text>
<text x="330.34" y="104.36" font-size="4.0" font-weight="bold" text-anchor="start" fill="#111" stroke="#111" stroke-width="0.25" >-3</text>
<text x="323.47" y="139.2" font-size="6.0" font-weight="bold" text-anchor="start" fill="#111" stroke="#111" stroke-width="0.25" >10</text>
<text x="330.34" y="136.6" font-size="4.0" font-weight="bold" text-anchor="start" fill="#111" stroke="#111" stroke-width="0.25" >-3</text>
<text x="381.7" y="152.6" font-size="6.65" font-weight="bold" text-anchor="middle" fill="#111" stroke="#111" stroke-width="0.25" >Synthesis time (h)</text>
<text x="312.9" y="104.8" font-size="6.2" font-weight="bold" text-anchor="middle" fill="#111" stroke="#111" stroke-width="0.25" transform="rotate(-90 312.9 104.8)" ><tspan font-style="italic" font-size="6.8">σ</tspan><tspan font-size="4.4" dy="1.6">25 °C</tspan><tspan dy="-1.6"> (S cm</tspan><tspan font-size="4.3" dy="-2.5">−1</tspan><tspan dy="2.5">)</tspan></text>
<path d="M351.8,117.62 L381.8,93.2 L411.8,103.04" fill="none" stroke="#f0383c" stroke-width="1.1"/>
<circle cx="351.8" cy="117.62" r="2.9" fill="#f0383c"/>
<circle cx="381.8" cy="93.2" r="2.9" fill="#f0383c"/>
<circle cx="411.8" cy="103.04" r="2.9" fill="#f0383c"/>
<line x1="236.6" y1="179.2" x2="236.6" y2="353.5" stroke="#1a1a1a" stroke-width="1.2"/>
<line x1="236.6" y1="353.5" x2="448" y2="353.5" stroke="#1a1a1a" stroke-width="1.2"/>
<line x1="448" y1="179.2" x2="448" y2="353.5" stroke="#1a1a1a" stroke-width="1.2"/>
<line x1="233.8" y1="353.5" x2="236.6" y2="353.5" stroke="#1a1a1a" stroke-width="0.9" />
<text x="231.2" y="356" font-size="7.0" font-weight="bold" text-anchor="end" fill="#111" stroke="#111" stroke-width="0.25" >0</text>
<line x1="233.8" y1="317.31" x2="236.6" y2="317.31" stroke="#1a1a1a" stroke-width="0.9" />
<text x="231.2" y="319.81" font-size="7.0" font-weight="bold" text-anchor="end" fill="#111" stroke="#111" stroke-width="0.25" >15</text>
<line x1="233.8" y1="281.11" x2="236.6" y2="281.11" stroke="#1a1a1a" stroke-width="0.9" />
<text x="231.2" y="283.61" font-size="7.0" font-weight="bold" text-anchor="end" fill="#111" stroke="#111" stroke-width="0.25" >30</text>
<line x1="233.8" y1="244.92" x2="236.6" y2="244.92" stroke="#1a1a1a" stroke-width="0.9" />
<text x="231.2" y="247.42" font-size="7.0" font-weight="bold" text-anchor="end" fill="#111" stroke="#111" stroke-width="0.25" >45</text>
<line x1="233.8" y1="208.72" x2="236.6" y2="208.72" stroke="#1a1a1a" stroke-width="0.9" />
<text x="231.2" y="211.22" font-size="7.0" font-weight="bold" text-anchor="end" fill="#111" stroke="#111" stroke-width="0.25" >60</text>
<line x1="235" y1="335.4" x2="236.6" y2="335.4" stroke="#1a1a1a" stroke-width="0.9" />
<line x1="235" y1="299.21" x2="236.6" y2="299.21" stroke="#1a1a1a" stroke-width="0.9" />
<line x1="235" y1="263.01" x2="236.6" y2="263.01" stroke="#1a1a1a" stroke-width="0.9" />
<line x1="235" y1="226.82" x2="236.6" y2="226.82" stroke="#1a1a1a" stroke-width="0.9" />
<line x1="235" y1="190.62" x2="236.6" y2="190.62" stroke="#1a1a1a" stroke-width="0.9" />
<text x="220.6" y="266.1" font-size="8.5" font-weight="bold" text-anchor="middle" fill="#111" stroke="#111" stroke-width="0.25" transform="rotate(-90 220.6 266.1)" >Processing cost ($ L<tspan font-size="5.8" dy="-3.2">−1</tspan><tspan dy="3.2">)</tspan></text>
<text x="214.2" y="180.9" font-size="8.2" font-weight="bold" text-anchor="start" fill="#111" stroke="#111" stroke-width="0.25" >d</text>
<rect x="245.1" y="341.44" width="22.8" height="12.06" fill="#f8c5c6" stroke="#80808e" stroke-width="0.6"/>
<rect x="245.1" y="336.13" width="22.8" height="5.31" fill="#e0cdf3" stroke="#80808e" stroke-width="0.6"/>
<rect x="245.1" y="317.55" width="22.8" height="18.58" fill="#dccaca" stroke="#80808e" stroke-width="0.6"/>
<rect x="245.1" y="316.56" width="22.8" height="0.99" fill="#cbdcf0" stroke="#80808e" stroke-width="0.6"/>
<text x="244.84" y="313.36" font-size="6.3" font-weight="normal" text-anchor="start" fill="#111" stroke="#111" stroke-width="0.12" >&#36;15.31 L</text>
<text x="269.56" y="311.26" font-size="3.9" font-weight="normal" text-anchor="start" fill="#111" stroke="#111" stroke-width="0.12" >−1</text>
<line x1="256.5" y1="353.5" x2="256.5" y2="356.5" stroke="#1a1a1a" stroke-width="0.9" />
<text x="256.5" y="364.8" font-size="7.3" font-weight="bold" text-anchor="middle" fill="#111" stroke="#111" stroke-width="0.25" >4</text>
<rect x="284.7" y="323.1" width="22.8" height="30.4" fill="#f8c5c6" stroke="#80808e" stroke-width="0.6"/>
<rect x="284.7" y="309.1" width="22.8" height="14" fill="#e0cdf3" stroke="#80808e" stroke-width="0.6"/>
<rect x="284.7" y="291.24" width="22.8" height="17.86" fill="#dccaca" stroke="#80808e" stroke-width="0.6"/>
<rect x="284.7" y="289.56" width="22.8" height="1.69" fill="#cbdcf0" stroke="#80808e" stroke-width="0.6"/>
<text x="284.44" y="286.36" font-size="6.3" font-weight="normal" text-anchor="start" fill="#111" stroke="#111" stroke-width="0.12" >&#36;26.50 L</text>
<text x="309.16" y="284.26" font-size="3.9" font-weight="normal" text-anchor="start" fill="#111" stroke="#111" stroke-width="0.12" >−1</text>
<line x1="296.1" y1="353.5" x2="296.1" y2="356.5" stroke="#1a1a1a" stroke-width="0.9" />
<text x="296.1" y="364.8" font-size="7.3" font-weight="bold" text-anchor="middle" fill="#111" stroke="#111" stroke-width="0.25" >10</text>
<rect x="317.7" y="307.41" width="22.8" height="46.09" fill="#f8c5c6" stroke="#80808e" stroke-width="0.6"/>
<rect x="317.7" y="288.11" width="22.8" height="19.3" fill="#e0cdf3" stroke="#80808e" stroke-width="0.6"/>
<rect x="317.7" y="269.05" width="22.8" height="19.06" fill="#dccaca" stroke="#80808e" stroke-width="0.6"/>
<rect x="317.7" y="267.04" width="22.8" height="2" fill="#cbdcf0" stroke="#80808e" stroke-width="0.6"/>
<text x="317.44" y="263.84" font-size="6.3" font-weight="normal" text-anchor="start" fill="#111" stroke="#111" stroke-width="0.12" >&#36;35.83 L</text>
<text x="342.16" y="261.74" font-size="3.9" font-weight="normal" text-anchor="start" fill="#111" stroke="#111" stroke-width="0.12" >−1</text>
<line x1="329.1" y1="353.5" x2="329.1" y2="356.5" stroke="#1a1a1a" stroke-width="0.9" />
<text x="329.1" y="364.8" font-size="7.3" font-weight="bold" text-anchor="middle" fill="#111" stroke="#111" stroke-width="0.25" >15</text>
<rect x="350.7" y="292.45" width="22.8" height="61.05" fill="#f8c5c6" stroke="#80808e" stroke-width="0.6"/>
<rect x="350.7" y="265.67" width="22.8" height="26.78" fill="#e0cdf3" stroke="#80808e" stroke-width="0.6"/>
<rect x="350.7" y="247.33" width="22.8" height="18.34" fill="#dccaca" stroke="#80808e" stroke-width="0.6"/>
<rect x="350.7" y="244.55" width="22.8" height="2.77" fill="#cbdcf0" stroke="#80808e" stroke-width="0.6"/>
<text x="350.44" y="241.35" font-size="6.3" font-weight="normal" text-anchor="start" fill="#111" stroke="#111" stroke-width="0.12" >&#36;45.15 L</text>
<text x="375.16" y="239.25" font-size="3.9" font-weight="normal" text-anchor="start" fill="#111" stroke="#111" stroke-width="0.12" >−1</text>
<line x1="362.1" y1="353.5" x2="362.1" y2="356.5" stroke="#1a1a1a" stroke-width="0.9" />
<text x="362.1" y="364.8" font-size="7.3" font-weight="bold" text-anchor="middle" fill="#111" stroke="#111" stroke-width="0.25" >20</text>
<rect x="383.7" y="277.49" width="22.8" height="76.01" fill="#f8c5c6" stroke="#80808e" stroke-width="0.6"/>
<rect x="383.7" y="244.43" width="22.8" height="33.06" fill="#e0cdf3" stroke="#80808e" stroke-width="0.6"/>
<rect x="383.7" y="225.37" width="22.8" height="19.06" fill="#dccaca" stroke="#80808e" stroke-width="0.6"/>
<rect x="383.7" y="222.04" width="22.8" height="3.33" fill="#cbdcf0" stroke="#80808e" stroke-width="0.6"/>
<text x="383.44" y="218.84" font-size="6.3" font-weight="normal" text-anchor="start" fill="#111" stroke="#111" stroke-width="0.12" >&#36;54.48 L</text>
<text x="408.16" y="216.74" font-size="3.9" font-weight="normal" text-anchor="start" fill="#111" stroke="#111" stroke-width="0.12" >−1</text>
<line x1="395.1" y1="353.5" x2="395.1" y2="356.5" stroke="#1a1a1a" stroke-width="0.9" />
<text x="395.1" y="364.8" font-size="7.3" font-weight="bold" text-anchor="middle" fill="#111" stroke="#111" stroke-width="0.25" >25</text>
<rect x="416.7" y="261.81" width="22.8" height="91.69" fill="#f8c5c6" stroke="#80808e" stroke-width="0.6"/>
<rect x="416.7" y="222.72" width="22.8" height="39.09" fill="#e0cdf3" stroke="#80808e" stroke-width="0.6"/>
<rect x="416.7" y="203.17" width="22.8" height="19.55" fill="#dccaca" stroke="#80808e" stroke-width="0.6"/>
<rect x="416.7" y="199.57" width="22.8" height="3.6" fill="#cbdcf0" stroke="#80808e" stroke-width="0.6"/>
<text x="416.44" y="196.37" font-size="6.3" font-weight="normal" text-anchor="start" fill="#111" stroke="#111" stroke-width="0.12" >&#36;63.79 L</text>
<text x="441.16" y="194.27" font-size="3.9" font-weight="normal" text-anchor="start" fill="#111" stroke="#111" stroke-width="0.12" >−1</text>
<line x1="428.1" y1="353.5" x2="428.1" y2="356.5" stroke="#1a1a1a" stroke-width="0.9" />
<text x="428.1" y="364.8" font-size="7.3" font-weight="bold" text-anchor="middle" fill="#111" stroke="#111" stroke-width="0.25" >30</text>
<text x="342.3" y="374.6" font-size="8.5" font-weight="bold" text-anchor="middle" fill="#111" stroke="#111" stroke-width="0.25" >Synthesis time (h)</text>
<rect x="243.4" y="185.3" width="14" height="6.8" fill="#cbdcf0" stroke="#80808e" stroke-width="0.6"/>
<text x="259.8" y="191.3" font-size="6.8" font-weight="normal" text-anchor="start" fill="#111" stroke="#111" stroke-width="0.12" >Plant area</text>
<rect x="243.4" y="199.05" width="14" height="6.8" fill="#dccaca" stroke="#80808e" stroke-width="0.6"/>
<text x="259.8" y="205.05" font-size="6.8" font-weight="normal" text-anchor="start" fill="#111" stroke="#111" stroke-width="0.12" >Personnel</text>
<rect x="243.4" y="212.8" width="14" height="6.8" fill="#e0cdf3" stroke="#80808e" stroke-width="0.6"/>
<text x="259.8" y="218.8" font-size="6.8" font-weight="normal" text-anchor="start" fill="#111" stroke="#111" stroke-width="0.12" >Electricity</text>
<rect x="243.4" y="226.55" width="14" height="6.8" fill="#f8c5c6" stroke="#80808e" stroke-width="0.6"/>
<text x="259.8" y="232.55" font-size="6.8" font-weight="normal" text-anchor="start" fill="#111" stroke="#111" stroke-width="0.12" >Depreciation</text>
<line x1="489.3" y1="6.3" x2="684.2" y2="6.3" stroke="#1a1a1a" stroke-width="1.2" />
<line x1="684.2" y1="6.3" x2="684.2" y2="164.3" stroke="#1a1a1a" stroke-width="1.2" />
<line x1="489.3" y1="164.3" x2="684.2" y2="164.3" stroke="#1a1a1a" stroke-width="1.2" />
<line x1="489.3" y1="6.3" x2="489.3" y2="68.4" stroke="#1a1a1a" stroke-width="1.2" />
<line x1="489.3" y1="71" x2="489.3" y2="164.3" stroke="#1a1a1a" stroke-width="1.2" />
<line x1="486.3" y1="69.4" x2="492.4" y2="67" stroke="#1a1a1a" stroke-width="1.25" />
<line x1="486.3" y1="72.3" x2="492.4" y2="69.9" stroke="#1a1a1a" stroke-width="1.25" />
<line x1="486.5" y1="164.3" x2="489.3" y2="164.3" stroke="#1a1a1a" stroke-width="0.9" />
<text x="484.2" y="166.8" font-size="7.0" font-weight="bold" text-anchor="end" fill="#111" stroke="#111" stroke-width="0.25" >0</text>
<line x1="486.5" y1="133.3" x2="489.3" y2="133.3" stroke="#1a1a1a" stroke-width="0.9" />
<text x="484.2" y="135.8" font-size="7.0" font-weight="bold" text-anchor="end" fill="#111" stroke="#111" stroke-width="0.25" >5</text>
<line x1="486.5" y1="102.3" x2="489.3" y2="102.3" stroke="#1a1a1a" stroke-width="0.9" />
<text x="484.2" y="104.8" font-size="7.0" font-weight="bold" text-anchor="end" fill="#111" stroke="#111" stroke-width="0.25" >10</text>
<line x1="487.7" y1="148.8" x2="489.3" y2="148.8" stroke="#1a1a1a" stroke-width="0.9" />
<line x1="487.7" y1="117.8" x2="489.3" y2="117.8" stroke="#1a1a1a" stroke-width="0.9" />
<line x1="487.7" y1="86.8" x2="489.3" y2="86.8" stroke="#1a1a1a" stroke-width="0.9" />
<line x1="486.5" y1="68" x2="489.3" y2="68" stroke="#1a1a1a" stroke-width="0.9" />
<text x="484.2" y="70.5" font-size="7.0" font-weight="bold" text-anchor="end" fill="#111" stroke="#111" stroke-width="0.25" >205</text>
<line x1="486.5" y1="36.95" x2="489.3" y2="36.95" stroke="#1a1a1a" stroke-width="0.9" />
<text x="484.2" y="39.45" font-size="7.0" font-weight="bold" text-anchor="end" fill="#111" stroke="#111" stroke-width="0.25" >210</text>
<line x1="486.5" y1="5.9" x2="489.3" y2="5.9" stroke="#1a1a1a" stroke-width="0.9" />
<text x="484.2" y="8.4" font-size="7.0" font-weight="bold" text-anchor="end" fill="#111" stroke="#111" stroke-width="0.25" >215</text>
<line x1="487.7" y1="52.48" x2="489.3" y2="52.48" stroke="#1a1a1a" stroke-width="0.9" />
<line x1="487.7" y1="21.42" x2="489.3" y2="21.42" stroke="#1a1a1a" stroke-width="0.9" />
<text x="466.2" y="85.7" font-size="8.4" font-weight="bold" text-anchor="middle" fill="#111" stroke="#111" stroke-width="0.25" transform="rotate(-90 466.2 85.7)" >2024 average market price ($ kg<tspan font-size="5.3" dy="-3.1">−1</tspan><tspan dy="3.1">)</tspan></text>
<text x="460.8" y="4.6" font-size="8.0" font-weight="bold" text-anchor="start" fill="#111" stroke="#111" stroke-width="0.25" >e</text>
<rect x="497.2" y="71" width="23.6" height="93.3" fill="#c4c4dc" stroke="#8a8aa6" stroke-width="0.6"/>
<rect x="497.2" y="32.79" width="23.6" height="35.31" fill="#c4c4dc" stroke="#8a8aa6" stroke-width="0.6"/>
<text x="492.6" y="30.3" font-size="6.25" font-weight="normal" text-anchor="start" fill="#111" stroke="#111" stroke-width="0.12" >&#36;210.67 kg</text>
<text x="523.83" y="28.2" font-size="3.9" font-weight="normal" text-anchor="start" fill="#111" stroke="#111" stroke-width="0.12" >−1</text>
<line x1="509" y1="164.3" x2="509" y2="166.5" stroke="#1a1a1a" stroke-width="0.9" />
<text x="509" y="175" font-size="7.2" font-weight="bold" text-anchor="middle" fill="#111" stroke="#111" stroke-width="0.25" ><tspan>Li</tspan><tspan font-size="5.04" dy="2.38">2</tspan><tspan dy="-2.38">O</tspan></text>
<rect x="536.1" y="77.25" width="23.6" height="87.05" fill="#c4c4dc" stroke="#8a8aa6" stroke-width="0.6"/>
<text x="533.6" y="73.7" font-size="6.25" font-weight="normal" text-anchor="start" fill="#111" stroke="#111" stroke-width="0.12" >&#36;14.04 kg</text>
<text x="561.35" y="71.6" font-size="3.9" font-weight="normal" text-anchor="start" fill="#111" stroke="#111" stroke-width="0.12" >−1</text>
<line x1="547.9" y1="164.3" x2="547.9" y2="166.5" stroke="#1a1a1a" stroke-width="0.9" />
<text x="547.9" y="175" font-size="7.2" font-weight="bold" text-anchor="middle" fill="#111" stroke="#111" stroke-width="0.25" >LiCl</text>
<rect x="575" y="85.93" width="23.6" height="78.37" fill="#c4c4dc" stroke="#8a8aa6" stroke-width="0.6"/>
<text x="571.9" y="81.9" font-size="6.25" font-weight="normal" text-anchor="start" fill="#111" stroke="#111" stroke-width="0.12" >&#36;12.64 kg</text>
<text x="599.65" y="79.8" font-size="3.9" font-weight="normal" text-anchor="start" fill="#111" stroke="#111" stroke-width="0.12" >−1</text>
<line x1="586.8" y1="164.3" x2="586.8" y2="166.5" stroke="#1a1a1a" stroke-width="0.9" />
<text x="586.8" y="175" font-size="7.2" font-weight="bold" text-anchor="middle" fill="#111" stroke="#111" stroke-width="0.25" ><tspan>Li</tspan><tspan font-size="5.04" dy="2.38">2</tspan><tspan dy="-2.38">CO</tspan><tspan font-size="5.04" dy="2.38">3</tspan></text>
<rect x="614.3" y="94.61" width="23.6" height="69.69" fill="#c4c4dc" stroke="#8a8aa6" stroke-width="0.6"/>
<text x="611.3" y="90.8" font-size="6.25" font-weight="normal" text-anchor="start" fill="#111" stroke="#111" stroke-width="0.12" >&#36;11.24 kg</text>
<text x="638.59" y="88.7" font-size="3.9" font-weight="normal" text-anchor="start" fill="#111" stroke="#111" stroke-width="0.12" >−1</text>
<line x1="626.1" y1="164.3" x2="626.1" y2="166.5" stroke="#1a1a1a" stroke-width="0.9" />
<text x="626.1" y="175" font-size="7.2" font-weight="bold" text-anchor="middle" fill="#111" stroke="#111" stroke-width="0.25" ><tspan>ZrCl</tspan><tspan font-size="5.04" dy="2.38">4</tspan></text>
<rect x="653.3" y="159.09" width="23.6" height="5.21" fill="#c4c4dc" stroke="#8a8aa6" stroke-width="0.6"/>
<text x="653.5" y="155.5" font-size="6.25" font-weight="normal" text-anchor="start" fill="#111" stroke="#111" stroke-width="0.12" >&#36;0.84 kg</text>
<text x="677.78" y="153.4" font-size="3.9" font-weight="normal" text-anchor="start" fill="#111" stroke="#111" stroke-width="0.12" >−1</text>
<line x1="665.1" y1="164.3" x2="665.1" y2="166.5" stroke="#1a1a1a" stroke-width="0.9" />
<text x="665.1" y="175" font-size="7.2" font-weight="bold" text-anchor="middle" fill="#111" stroke="#111" stroke-width="0.25" ><tspan>AlCl</tspan><tspan font-size="5.04" dy="2.38">3</tspan></text>
<line x1="489.3" y1="195.8" x2="686" y2="195.8" stroke="#1a1a1a" stroke-width="1.2" />
<line x1="489.3" y1="195.8" x2="489.3" y2="353.5" stroke="#1a1a1a" stroke-width="1.2" />
<line x1="489.3" y1="353.5" x2="686" y2="353.5" stroke="#1a1a1a" stroke-width="1.2" />
<line x1="684.2" y1="195.8" x2="684.2" y2="353.5" stroke="#1a1a1a" stroke-width="1.2" />
<line x1="486.5" y1="353.5" x2="489.3" y2="353.5" stroke="#1a1a1a" stroke-width="0.9" />
<text x="484.2" y="356" font-size="7.0" font-weight="bold" text-anchor="end" fill="#111" stroke="#111" stroke-width="0.25" >0</text>
<line x1="486.5" y1="314.05" x2="489.3" y2="314.05" stroke="#1a1a1a" stroke-width="0.9" />
<text x="484.2" y="316.55" font-size="7.0" font-weight="bold" text-anchor="end" fill="#111" stroke="#111" stroke-width="0.25" >45</text>
<line x1="486.5" y1="274.6" x2="489.3" y2="274.6" stroke="#1a1a1a" stroke-width="0.9" />
<text x="484.2" y="277.1" font-size="7.0" font-weight="bold" text-anchor="end" fill="#111" stroke="#111" stroke-width="0.25" >90</text>
<line x1="486.5" y1="235.15" x2="489.3" y2="235.15" stroke="#1a1a1a" stroke-width="0.9" />
<text x="484.2" y="237.65" font-size="7.0" font-weight="bold" text-anchor="end" fill="#111" stroke="#111" stroke-width="0.25" >135</text>
<line x1="486.5" y1="195.69" x2="489.3" y2="195.69" stroke="#1a1a1a" stroke-width="0.9" />
<text x="484.2" y="198.19" font-size="7.0" font-weight="bold" text-anchor="end" fill="#111" stroke="#111" stroke-width="0.25" >180</text>
<line x1="487.7" y1="333.77" x2="489.3" y2="333.77" stroke="#1a1a1a" stroke-width="0.9" />
<line x1="487.7" y1="294.32" x2="489.3" y2="294.32" stroke="#1a1a1a" stroke-width="0.9" />
<line x1="487.7" y1="254.87" x2="489.3" y2="254.87" stroke="#1a1a1a" stroke-width="0.9" />
<line x1="487.7" y1="215.42" x2="489.3" y2="215.42" stroke="#1a1a1a" stroke-width="0.9" />
<text x="468.2" y="275" font-size="8.5" font-weight="bold" text-anchor="middle" fill="#111" stroke="#111" stroke-width="0.25" transform="rotate(-90 468.2 275)" >SE cost ($ L<tspan font-size="5.8" dy="-3.2">−1</tspan><tspan dy="3.2">)</tspan></text>
<text x="463.6" y="193.8" font-size="8.2" font-weight="bold" text-anchor="start" fill="#111" stroke="#111" stroke-width="0.25" >f</text>
<rect x="508.5" y="326.5" width="26.4" height="27" fill="#f8c894" stroke="#9a9a9a" stroke-width="0.6"/>
<rect x="508.5" y="230.75" width="26.4" height="95.74" fill="#a2d6a0" stroke="#9a9a9a" stroke-width="0.6"/>
<text x="507.8" y="227.85" font-size="6.25" font-weight="normal" text-anchor="start" fill="#111" stroke="#111" stroke-width="0.12" >&#36;140.01 L</text>
<text x="535.9" y="225.75" font-size="3.9" font-weight="normal" text-anchor="start" fill="#111" stroke="#111" stroke-width="0.12" >−1</text>
<line x1="521.7" y1="353.5" x2="521.7" y2="355.9" stroke="#1a1a1a" stroke-width="0.9" />
<text x="522.2" y="364.8" font-size="7.25" font-weight="bold" text-anchor="middle" fill="#111" stroke="#111" stroke-width="0.25" ><tspan>Li</tspan><tspan font-size="5.04" dy="2.38">2</tspan><tspan dy="-2.38">ZrCl</tspan><tspan font-size="5.04" dy="2.38">6</tspan></text>
<rect x="573.4" y="271.97" width="26.4" height="81.53" fill="#f8c894" stroke="#9a9a9a" stroke-width="0.6"/>
<rect x="573.4" y="216.07" width="26.4" height="55.9" fill="#a2d6a0" stroke="#9a9a9a" stroke-width="0.6"/>
<text x="572.7" y="213.17" font-size="6.25" font-weight="normal" text-anchor="start" fill="#111" stroke="#111" stroke-width="0.12" >&#36;156.76 L</text>
<text x="600.8" y="211.07" font-size="3.9" font-weight="normal" text-anchor="start" fill="#111" stroke="#111" stroke-width="0.12" >−1</text>
<line x1="586.6" y1="353.5" x2="586.6" y2="355.9" stroke="#1a1a1a" stroke-width="0.9" />
<text x="587.1" y="364.8" font-size="7.25" font-weight="bold" text-anchor="middle" fill="#111" stroke="#111" stroke-width="0.25" >LZACO</text>
<text x="587.2" y="373.7" font-size="7.45" font-weight="bold" text-anchor="middle" fill="#111" stroke="#111" stroke-width="0.25" >(from <tspan>Li</tspan><tspan font-size="5.04" dy="2.38">2</tspan><tspan dy="-2.38">O</tspan>)</text>
<rect x="638.5" y="328.78" width="26.4" height="24.72" fill="#f8c894" stroke="#9a9a9a" stroke-width="0.6"/>
<rect x="638.5" y="315.19" width="26.4" height="13.59" fill="#a2d6a0" stroke="#9a9a9a" stroke-width="0.6"/>
<text x="639.54" y="312.29" font-size="6.25" font-weight="normal" text-anchor="start" fill="#111" stroke="#111" stroke-width="0.12" >&#36;43.70 L</text>
<text x="664.16" y="310.19" font-size="3.9" font-weight="normal" text-anchor="start" fill="#111" stroke="#111" stroke-width="0.12" >−1</text>
<line x1="651.7" y1="353.5" x2="651.7" y2="355.9" stroke="#1a1a1a" stroke-width="0.9" />
<text x="652.2" y="364.8" font-size="7.25" font-weight="bold" text-anchor="middle" fill="#111" stroke="#111" stroke-width="0.25" >LZACO</text>
<text x="652.3" y="373.7" font-size="7.45" font-weight="bold" text-anchor="middle" fill="#111" stroke="#111" stroke-width="0.25" >(from <tspan>Li</tspan><tspan font-size="5.04" dy="2.38">2</tspan><tspan dy="-2.38">CO</tspan><tspan font-size="5.04" dy="2.38">3</tspan>)</text>
<line x1="554.2" y1="353.5" x2="554.2" y2="355" stroke="#1a1a1a" stroke-width="0.9" />
<line x1="619.2" y1="353.5" x2="619.2" y2="355" stroke="#1a1a1a" stroke-width="0.9" />
<line x1="489.3" y1="271.6" x2="686" y2="271.6" stroke="#f03a32" stroke-width="1.3" stroke-dasharray="4.8 4.57"/>
<text x="649.85" y="267.9" font-size="6.6" font-weight="bold" text-anchor="start" fill="#ee2a2a" stroke="#ee2a2a" stroke-width="0.25" >&#36;93.50 L</text>
<text x="676.3" y="265.6" font-size="4.3" font-weight="bold" text-anchor="start" fill="#ee2a2a" stroke="#ee2a2a" stroke-width="0.25" >−1</text>
<rect x="609" y="201.6" width="14" height="7" fill="#a2d6a0" stroke="#9a9a9a" stroke-width="0.6"/>
<text x="625.8" y="207.6" font-size="6.7" font-weight="normal" text-anchor="start" fill="#111" stroke="#111" stroke-width="0.12" >Processing cost</text>
<rect x="609" y="215.4" width="14" height="7" fill="#f8c894" stroke="#9a9a9a" stroke-width="0.6"/>
<text x="625.8" y="221.4" font-size="6.7" font-weight="normal" text-anchor="start" fill="#111" stroke="#111" stroke-width="0.12" >Raw materials cost</text>
</svg>
</body></html>
